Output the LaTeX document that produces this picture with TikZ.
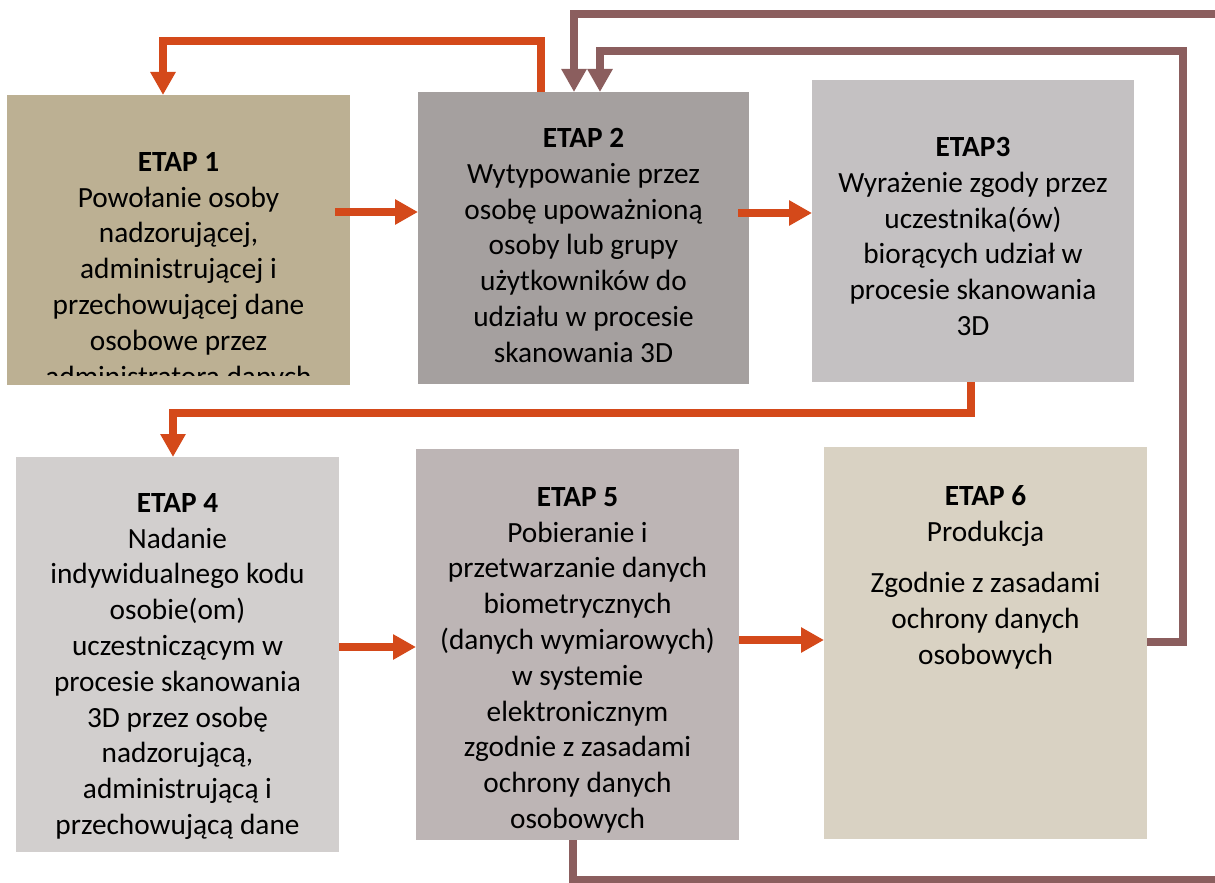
\documentclass[tikz,border=0pt]{standalone}
\usepackage{fontspec}
\setmainfont{Carlito}
\usetikzlibrary{arrows.meta}
\definecolor{cA}{HTML}{BCB093}
\definecolor{cB}{HTML}{A5A09F}
\definecolor{cC}{HTML}{C4C1C2}
\definecolor{cD}{HTML}{D2CFCE}
\definecolor{cE}{HTML}{BDB5B5}
\definecolor{cF}{HTML}{D9D2C3}
\definecolor{orng}{HTML}{D4491A}
\definecolor{brwn}{HTML}{8B5E5E}
\begin{document}
\begin{tikzpicture}[x=1pt,y=-1pt,
  box/.style={draw=none, inner sep=0pt, outer sep=0pt},
  txt/.style={align=center, inner sep=0pt, anchor=north, font=\fontsize{29.3}{35.8}\selectfont},
  oarr/.style={draw=orng, line width=8pt, -{Triangle[width=24pt,length=23pt]}},
  barr/.style={draw=brwn, line width=7.5pt, -{Triangle[width=24pt,length=23pt]}}
]
\clip (0,0) rectangle (1215,883);
\fill[white] (0,0) rectangle (1215,883);

% boxes
\node[box, fill=cA, minimum width=343pt, minimum height=290pt] (e1) at (178.5,240) {};
\node[box, fill=cB, minimum width=331pt, minimum height=292pt] (e2) at (583.5,238) {};
\node[box, fill=cC, minimum width=322pt, minimum height=302pt] (e3) at (973,231) {};
\node[box, fill=cD, minimum width=323pt, minimum height=395pt] (e4) at (177.5,654.5) {};
\node[box, fill=cE, minimum width=323pt, minimum height=391pt] (e5) at (577.5,644.5) {};
\node[box, fill=cF, minimum width=323pt, minimum height=392pt] (e6) at (985.5,643) {};

% texts
\begin{scope}
\clip (7,95) rectangle (350,375);
\node[txt] (t1) at (178.5,152) {\textbf{ETAP 1}\\Powołanie osoby\\nadzorującej,\\administrującej i\\przechowującej dane\\osobowe przez\\administratora danych};
\end{scope}
\node[txt] (t2) at (583.5,128) {\textbf{ETAP 2}\\Wytypowanie przez\\osobę upoważnioną\\osoby lub grupy\\użytkowników do\\udziału w procesie\\skanowania 3D};
\node[txt] (t3) at (973,137) {\textbf{ETAP3}\\Wyrażenie zgody przez\\uczestnika(ów)\\biorących udział w\\procesie skanowania\\3D};
\node[txt] (t4) at (177.5,493) {\textbf{ETAP 4}\\Nadanie\\indywidualnego kodu\\osobie(om)\\uczestniczącym w\\procesie skanowania\\3D przez osobę\\nadzorującą,\\administrującą i\\przechowującą dane};
\node[txt] (t5) at (577.5,487) {\textbf{ETAP 5}\\Pobieranie i\\przetwarzanie danych\\biometrycznych\\(danych wymiarowych)\\w systemie\\elektronicznym\\zgodnie z zasadami\\ochrony danych\\osobowych};
\node[txt] (t6) at (985.5,485) {\textbf{ETAP 6}\\Produkcja\\[16pt]Zgodnie z zasadami\\ochrony danych\\osobowych};

% orange connectors
\coordinate (p1) at (541,41);
\coordinate (p2) at (163,41);
\draw[oarr] (e2.north -| p1) -- (p1) -- (p2) -- (e1.north -| p2);
\coordinate (h1) at (335,212);
\draw[oarr] (h1) -- (h1 -| e2.west);
\coordinate (h2) at (738,213);
\draw[oarr] (h2) -- (h2 -| e3.west);
\coordinate (v3) at (971,413);
\coordinate (v4) at (173,413);
\draw[oarr] (e3.south -| v3) -- (v3) -- (v4) -- (e4.north -| v4);
\coordinate (h4) at (339,647);
\draw[oarr] (h4 -| e4.east) -- (h4 -| e5.west);
\coordinate (h5) at (739,640);
\draw[oarr] (h5 -| e5.east) -- (h5 -| e6.west);

% brown connectors
\coordinate (b1) at (1183,642);
\coordinate (b2) at (1183,51);
\coordinate (b3) at (600,51);
\draw[barr] (e6.east |- b1) -- (b1) -- (b2) -- (b3) -- (e2.north -| b3);
\coordinate (o1) at (573,880);
\coordinate (o2) at (1240,880);
\coordinate (o3) at (1240,14);
\coordinate (o4) at (574,14);
\draw[barr] (e5.south -| o1) -- (o1) -- (o2) -- (o3) -- (o4) -- (e2.north -| o4);
\end{tikzpicture}
\end{document}
